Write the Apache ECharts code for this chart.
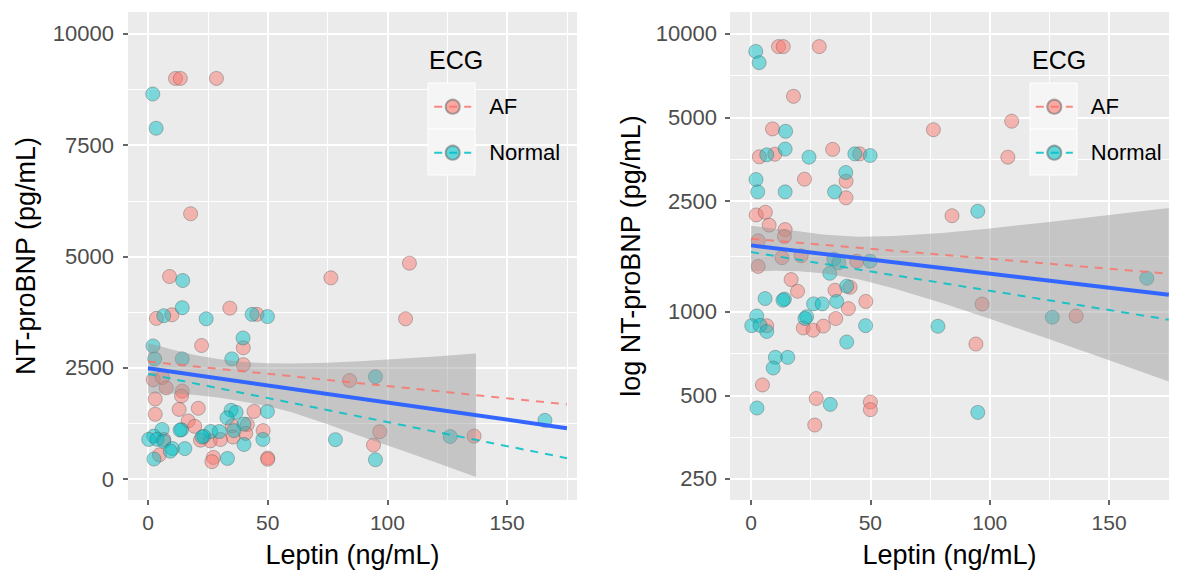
<!DOCTYPE html>
<html><head><meta charset="utf-8">
<script src="https://cdn.jsdelivr.net/npm/echarts@6/dist/echarts.min.js"></script>
<style>html,body{margin:0;padding:0;background:#fff}#c{width:1178px;height:573px}</style>
</head><body><div id="c"></div>
<script>
// ---- data ----
const afLeptin = [11.5, 13.5, 28.6, 17.8, 9.0, 3.5, 10.0, 34.2, 45.5, 22.4, 39.8, 39.8, 2.2, 6.0, 7.6, 14.3, 14.0, 3.0, 13.0, 21.0, 3.0, 16.8, 19.5, 35.2, 41.5, 44.3, 48.1, 40.8, 6.6, 35.5, 21.9, 26.0, 30.3, 4.8, 27.3, 26.7, 50.0, 50.0, 76.4, 109.2, 107.6, 84.2, 96.8, 136.2, 94.2];
const afNtproBNP = [9000, 9000, 9000, 5960, 4550, 3610, 3690, 3840, 3700, 3000, 2950, 2570, 2230, 2280, 2050, 1975, 1865, 1800, 1565, 1590, 1456, 1305, 1185, 1195, 1225, 1520, 1089, 1026, 890, 945, 874, 858, 888, 545, 487, 391, 473, 444, 4520, 4850, 3600, 2215, 1065, 965, 765];
const normalLeptin = [2.0, 3.4, 14.5, 6.6, 14.3, 24.3, 43.5, 49.9, 2.1, 2.8, 14.3, 39.7, 35.0, 34.7, 36.8, 49.9, 33.0, 40.1, 5.9, 14.0, 13.4, 26.2, 29.8, 35.9, 2.4, 23.3, 22.6, 0.3, 3.8, 6.6, 48.0, 40.1, 10.2, 15.4, 9.3, 2.5, 33.2, 78.3, 95.0, 95.0, 126.2, 165.8];
const normalNtproBNP = [8650, 7880, 4460, 3670, 3850, 3600, 3700, 3650, 2990, 2700, 2700, 3170, 2700, 1545, 1500, 1520, 1375, 1235, 1115, 1110, 1100, 1067, 1067, 1089, 965, 960, 945, 891, 893, 849, 891, 778, 685, 685, 627, 450, 464, 886, 2300, 434, 955, 1320];

const groups = ['AF', 'Normal'];
const xTicks = [0, 50, 100, 150];
const xMinor = [25, 75, 125, 175];
const yTicksLinear = [0, 2500, 5000, 7500, 10000];
const yMinorLinear = [1250, 3750, 6250, 8750];
const yTicksLog = [250, 500, 1000, 2500, 5000, 10000];
const yMinorLog = [354, 707, 1581, 3536, 7071];

// fitted lines (end points)
const fitX = [0, 175];
const linAllFit = [2490, 1143];
const linAfFit = [2640, 1677];
const linNormalFit = [2360, 470];
const logAllFit = [1733, 1151];
const logAfFit = [1830, 1370];
const logNormalFit = [1639, 936];

// confidence bands
const linBandX = [0, 10, 20, 30, 40, 50, 60, 75, 90, 105, 120, 137];
const linBandLower = [1923, 1917, 1889, 1829, 1735, 1640, 1500, 1230, 942, 662, 376, 48];
const linBandUpper = [3057, 2909, 2783, 2689, 2629, 2601, 2595, 2614, 2652, 2701, 2756, 2822];
const logBandX = [0, 10, 20, 30, 45, 60, 80, 100, 125, 150, 175];
const logBandLower = [1395, 1403, 1398, 1375, 1308, 1213, 1075, 943, 796, 669, 561];
const logBandUpper = [2040, 1990, 1950, 1898, 1861, 1871, 1922, 1995, 2104, 2228, 2362];

// ---- styling ----
const FONT = '"Liberation Sans", Arial, Helvetica, sans-serif';
const AF_COL = '#F8766D', NO_COL = '#00BFC4';
const AF_FILL = 'rgba(248,118,109,0.6)', NO_FILL = 'rgba(0,191,196,0.6)';
const PT_BORDER = 'rgba(90,90,90,0.5)';
const TICK_FONT = {fontFamily: FONT, fontSize: 21, color: '#4D4D4D'};
const YTICK_FONT = {fontFamily: FONT, fontSize: 22, color: '#4D4D4D'};
const TITLE_FONT = {fontFamily: FONT, fontSize: 27, color: '#000'};

function pairs(xs, ys) { return xs.map((x, i) => [x, ys[i]]); }

function majorAxis(gridIndex, min, max, ticks, opts) {
  return Object.assign({
    type: 'value', gridIndex, min, max,
    axisLine: {show: false, onZero: false},
    axisTick: {show: true, length: 5, customValues: ticks, lineStyle: {color: '#333', width: 1.5}},
    axisLabel: Object.assign({show: true, customValues: ticks, formatter: v => String(v)}, TICK_FONT),
    splitLine: {show: true, lineStyle: {color: '#fff', width: 2}},
    nameLocation: 'middle', nameTextStyle: TITLE_FONT
  }, opts);
}
function minorAxis(gridIndex, min, max, ticks, position) {
  return {
    type: 'value', gridIndex, min, max, position,
    axisLine: {show: false, onZero: false},
    axisTick: {show: false, customValues: ticks},
    axisLabel: {show: false},
    splitLine: {show: true, lineStyle: {color: '#fff', width: 1}}
  };
}

const L = {xMin: -8.35, xMax: 179.2, yMin: -470, yMax: 10492};
const R = {xMin: -8.8, xMax: 175.1, yMin: 210, yMax: 11990};
const lg = Math.log10;

const xAxis = [
  majorAxis(0, L.xMin, L.xMax, xTicks, {position: 'bottom', name: 'Leptin (ng/mL)', nameGap: 41, axisLabel: Object.assign({show: true, customValues: xTicks, margin: 12, formatter: v => String(v)}, TICK_FONT)}),
  minorAxis(0, L.xMin, L.xMax, xMinor, 'bottom'),
  majorAxis(1, R.xMin, R.xMax, xTicks, {position: 'bottom', name: 'Leptin (ng/mL)', nameGap: 41, axisLabel: Object.assign({show: true, customValues: xTicks, margin: 12, formatter: v => String(v)}, TICK_FONT)}),
  minorAxis(1, R.xMin, R.xMax, xMinor, 'bottom')
];
const yAxis = [
  majorAxis(0, L.yMin, L.yMax, yTicksLinear, {position: 'left', name: 'NT-proBNP (pg/mL)', nameGap: 89, axisLabel: Object.assign({show: true, customValues: yTicksLinear, margin: 14, formatter: v => String(v)}, YTICK_FONT)}),
  minorAxis(0, L.yMin, L.yMax, yMinorLinear, 'left'),
  // log data axis for the right panel (hidden; marks are drawn on it)
  {type: 'log', logBase: 10, gridIndex: 1, min: R.yMin, max: R.yMax, show: false},
  // tick labels / major grid of the log axis, in log10 units
  majorAxis(1, lg(R.yMin), lg(R.yMax), yTicksLog.map(lg), {position: 'left', name: 'log NT-proBNP (pg/mL)', nameGap: 86,
    axisLabel: Object.assign({show: true, customValues: yTicksLog.map(lg), margin: 13, formatter: v => String(Math.round(Math.pow(10, v)))}, YTICK_FONT)}),
  minorAxis(1, lg(R.yMin), lg(R.yMax), yMinorLog.map(lg), 'left')
];

function bandSeries(xi, yi, bx, lo, hi) {
  return {
    type: 'custom', xAxisIndex: xi, yAxisIndex: yi, z: 3, silent: true, name: 'band',
    data: bx.map((x, i) => [x, lo[i], hi[i]]),
    encode: {x: 0, y: [1, 2]},
    renderItem: function (params, api) {
      if (params.dataIndex !== 0) return null;
      const pts = [];
      for (let i = 0; i < bx.length; i++) pts.push(api.coord([bx[i], hi[i]]));
      for (let i = bx.length - 1; i >= 0; i--) pts.push(api.coord([bx[i], lo[i]]));
      return {type: 'polygon', shape: {points: pts}, style: {fill: 'rgba(150,150,150,0.45)'}};
    }
  };
}
function dashed(name, xi, yi, ys, col, fill) {
  return {
    type: 'line', name, xAxisIndex: xi, yAxisIndex: yi, z: 5, silent: true,
    data: pairs(fitX, ys), showSymbol: false, symbol: 'circle',
    lineStyle: {color: col, width: 2, type: [8, 7], opacity: 0.85},
    itemStyle: {color: fill, borderColor: PT_BORDER, borderWidth: 1}
  };
}
function points(name, xi, yi, xs, ys, fill) {
  return {
    type: 'scatter', name, xAxisIndex: xi, yAxisIndex: yi, z: 2, silent: true,
    data: pairs(xs, ys), symbol: 'circle', symbolSize: 14,
    itemStyle: {color: fill, borderColor: PT_BORDER, borderWidth: 1}
  };
}
function blue(xi, yi, ys) {
  return {type: 'line', name: 'fit', xAxisIndex: xi, yAxisIndex: yi, z: 4, silent: true,
    data: pairs(fitX, ys), showSymbol: false, lineStyle: {color: '#3366FF', width: 4}};
}

const series = [
  dashed('AF', 0, 0, linAfFit, AF_COL, AF_FILL),
  dashed('Normal', 0, 0, linNormalFit, NO_COL, NO_FILL),
  points('AF', 0, 0, afLeptin, afNtproBNP, AF_FILL),
  points('Normal', 0, 0, normalLeptin, normalNtproBNP, NO_FILL),
  bandSeries(0, 0, linBandX, linBandLower, linBandUpper),
  blue(0, 0, linAllFit),
  dashed('AF', 2, 2, logAfFit, AF_COL, AF_FILL),
  dashed('Normal', 2, 2, logNormalFit, NO_COL, NO_FILL),
  points('AF', 2, 2, afLeptin, afNtproBNP, AF_FILL),
  points('Normal', 2, 2, normalLeptin, normalNtproBNP, NO_FILL),
  bandSeries(2, 2, logBandX, logBandLower, logBandUpper),
  blue(2, 2, logAllFit)
];

function legend(left) {
  return {
    left, top: 95.7, orient: 'vertical', padding: 0, itemGap: 24,
    itemWidth: 37, itemHeight: 17.5, selectedMode: false,
    data: groups.map(g => ({name: g})),
    textStyle: {fontFamily: FONT, fontSize: 22, color: '#000', lineHeight: 22, padding: [0, 0, 0, 13]}
  };
}
function keyBoxes(x) {
  return [0, 1].map(i => ({
    type: 'rect', z: 1, silent: true,
    shape: {x, y: 83 + i * 46, width: 47, height: 46},
    style: {fill: '#F5F5F5', stroke: '#FFFFFF', lineWidth: 1}
  }));
}

const chart = echarts.init(document.getElementById('c'), null, {renderer: 'svg', width: 1178, height: 573});
chart.setOption({
  animation: false,
  backgroundColor: '#fff',
  grid: [
    {left: 128, top: 12, width: 449, height: 490, show: true, backgroundColor: '#EBEBEB', borderWidth: 0},
    {left: 730, top: 12, width: 439, height: 490, show: true, backgroundColor: '#EBEBEB', borderWidth: 0}
  ],
  title: [
    {text: 'ECG', left: 429, top: 47, padding: 0, textStyle: {fontFamily: FONT, fontSize: 25, fontWeight: 'normal', color: '#000'}},
    {text: 'ECG', left: 1032, top: 47, padding: 0, textStyle: {fontFamily: FONT, fontSize: 25, fontWeight: 'normal', color: '#000'}}
  ],
  legend: [legend(433.2), legend(1034.8)],
  graphic: keyBoxes(428).concat(keyBoxes(1030)),
  xAxis, yAxis, series
});
</script></body></html>
